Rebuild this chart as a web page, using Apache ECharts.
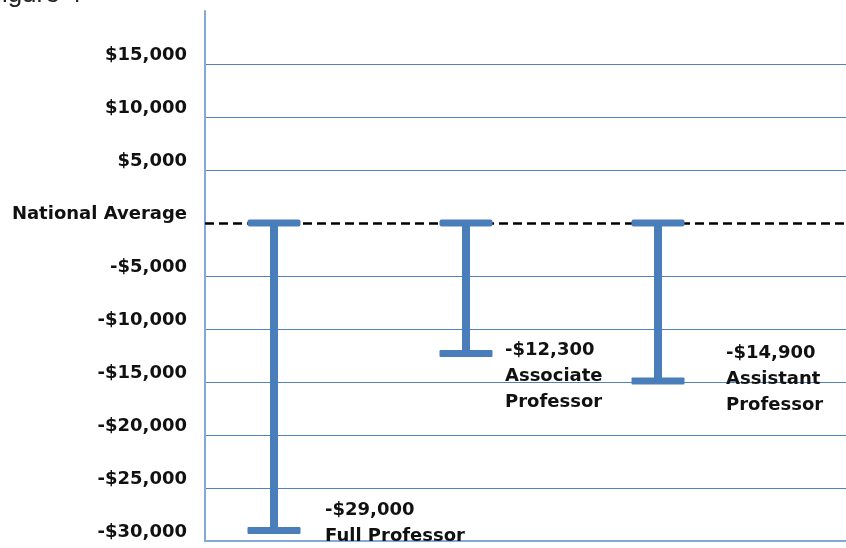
<!DOCTYPE html>
<html>
<head>
<meta charset="utf-8">
<title>Salary gap by rank</title>
<script src="https://cdn.jsdelivr.net/npm/echarts@6/dist/echarts.min.js"></script>
<style>
  html, body { margin: 0; padding: 0; background: #ffffff; }
  #chart { width: 846px; height: 548px; }
</style>
</head>
<body>
<div id="chart"></div>
<script>
// Faculty ranks and their salary gap versus the national average (USD)
const categories = ['Full Professor', 'Associate Professor', 'Assistant Professor'];
const gapValues = [-29000, -12300, -14900];
const valueLabels = ['-$29,000', '-$12,300', '-$14,900'];
const rankLabels = ['Full Professor', 'Associate\nProfessor', 'Assistant\nProfessor'];

// Y-axis ticks and their printed labels
const yTickValues = [15000, 10000, 5000, 0, -5000, -10000, -15000, -20000, -25000, -30000];
const yTickLabels = ['$15,000', '$10,000', '$5,000', 'National Average', '-$5,000', '-$10,000',
  '-$15,000', '-$20,000', '-$25,000', '-$30,000'];

// Label placement next to each bar end (dx, dy in px)
const labelOffsets = [[51, -33], [39, -16], [68, -41]];

const BAR_BLUE = '#4a7ebb';
const GRID_BLUE = '#5183c2';
const AXIS_BLUE = '#86a8d8';
const FONT = '"DejaVu Sans", sans-serif';

const chart = echarts.init(document.getElementById('chart'), null, { renderer: 'canvas' });

const yRange = { min: -30000, max: 20000, interval: 5000 };

const option = {
  animation: false,
  backgroundColor: '#ffffff',
  graphic: [{
    type: 'text',
    left: -14,
    top: -18,
    style: { text: 'Figure 4', font: '26px "Liberation Sans", sans-serif', fill: '#222' }
  }],
  grid: [
    { left: 205, right: 0, top: 11, bottom: 7 },
    { left: 178, right: 92, top: 11, bottom: 7 }
  ],
  xAxis: [
    {
      gridIndex: 0, type: 'value', min: 0, max: 1,
      axisLine: { show: true, onZero: false, lineStyle: { color: AXIS_BLUE, width: 2 } },
      axisTick: { show: false }, axisLabel: { show: false }, splitLine: { show: false }
    },
    {
      gridIndex: 1, type: 'category', data: categories, show: false
    }
  ],
  yAxis: [
    {
      gridIndex: 0, type: 'value', ...yRange,
      axisLine: { show: true, lineStyle: { color: AXIS_BLUE, width: 2 } },
      axisTick: { show: false },
      axisLabel: {
        margin: 18,
        verticalAlign: 'bottom',
        lineHeight: 18,
        color: '#111',
        fontFamily: FONT,
        fontWeight: 'bold',
        fontSize: 18,
        formatter: function (v) {
          const i = yTickValues.indexOf(v);
          return i >= 0 ? yTickLabels[i] : '';
        }
      },
      splitLine: { show: true, showMaxLine: false, lineStyle: { color: GRID_BLUE, width: 1.2 } }
    },
    {
      gridIndex: 1, type: 'value', ...yRange, show: false, splitLine: { show: false }
    }
  ],
  series: [
    {
      // white underlay so the dashed reference line has clean gaps
      type: 'line', xAxisIndex: 0, yAxisIndex: 0, data: [], silent: true, z: 3,
      markLine: {
        silent: true, symbol: 'none', label: { show: false },
        lineStyle: { color: '#ffffff', width: 3, type: 'solid' },
        data: [{ yAxis: 0 }]
      }
    },
    {
      // national average reference line
      type: 'line', xAxisIndex: 0, yAxisIndex: 0, data: [], silent: true, z: 4,
      markLine: {
        silent: true, symbol: 'none', label: { show: false },
        lineStyle: { color: '#000000', width: 2.5, type: [9, 5] },
        data: [{ yAxis: 0 }]
      }
    },
    {
      type: 'custom', xAxisIndex: 1, yAxisIndex: 1, z: 10,
      data: gapValues.map((v, i) => [i, v]),
      renderItem: function (params, api) {
        const i = params.dataIndex;
        const top = api.coord([api.value(0), 0]);
        const bottom = api.coord([api.value(0), api.value(1)]);
        const capW = 53, capH = 7, stemW = 8;
        const off = labelOffsets[i];
        return {
          type: 'group',
          children: [
            { type: 'rect', shape: { x: top[0] - stemW / 2, y: top[1], width: stemW, height: bottom[1] - top[1] },
              style: { fill: BAR_BLUE } },
            { type: 'rect', shape: { x: top[0] - capW / 2, y: top[1] - capH / 2, width: capW, height: capH, r: 2 },
              style: { fill: BAR_BLUE } },
            { type: 'rect', shape: { x: bottom[0] - capW / 2, y: bottom[1] - capH / 2, width: capW, height: capH, r: 1 },
              style: { fill: BAR_BLUE } },
            { type: 'text', x: bottom[0] + off[0], y: bottom[1] + off[1],
              style: {
                text: valueLabels[i] + '\n' + rankLabels[i],
                font: 'bold 18px ' + FONT,
                fill: '#111',
                lineHeight: 26,
                align: 'left',
                verticalAlign: 'top'
              } }
          ]
        };
      }
    }
  ]
};

chart.setOption(option);
</script>
</body>
</html>
